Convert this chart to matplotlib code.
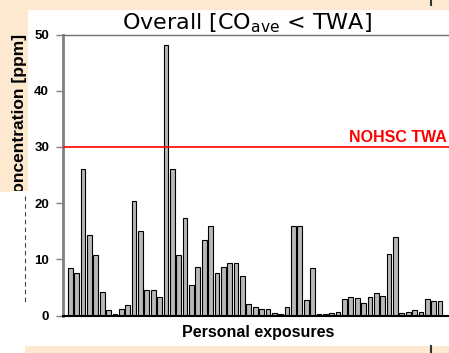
import matplotlib
matplotlib.use("Agg")
import matplotlib.pyplot as plt
from matplotlib.patches import Rectangle
from matplotlib.lines import Line2D

# ---- data ----
exposure_values = [8.4, 7.5, 26.1, 14.4, 10.7, 4.1, 0.9, 0.3, 1.2, 1.9,
                   20.3, 15.0, 4.5, 4.6, 3.3, 48.1, 26.1, 10.7, 17.3, 5.4,
                   8.7, 13.4, 16.0, 7.5, 8.7, 9.3, 9.4, 7.0, 2.0, 1.6,
                   1.2, 1.2, 0.4, 0.3, 1.5, 16.0, 15.9, 2.7, 8.45, 0.3,
                   0.3, 0.4, 0.7, 3.0, 3.3, 3.1, 2.2, 3.3, 3.95, 3.5,
                   10.9, 14.0, 0.4, 0.7, 0.9, 0.7, 2.9, 2.5, 2.5]
y_ticks = [0, 10, 20, 30, 40, 50]
twa_level = 30
twa_label = "NOHSC TWA"
title_text = r"Overall [CO$_{\mathrm{ave}}$ < TWA]"
x_label = "Personal exposures"
y_label = "Average concentration [ppm]"

W, H = 449, 353
plt.rcParams['mathtext.fontset'] = 'dejavusans'
fig = plt.figure(figsize=(W / 100, H / 100), dpi=100)
fig.patch.set_facecolor('white')

def fx(x):
    return x / W

def fy(y):
    return 1 - y / H

beige = '#fce9cf'
# background decoration (slide)
fig.patches.append(Rectangle((0, fy(10)), 1, fy(0) - fy(10), transform=fig.transFigure,
                             facecolor=beige, edgecolor='none', zorder=-2))
fig.patches.append(Rectangle((0, fy(192)), fx(28), fy(0) - fy(192), transform=fig.transFigure,
                             facecolor=beige, edgecolor='none', zorder=-2))
fig.patches.append(Rectangle((fx(25), 0), 1, fy(346), transform=fig.transFigure,
                             facecolor=beige, edgecolor='none', zorder=-2))
for (y0, y1) in [(0, 5), (346, 353)]:
    fig.lines.append(Line2D([fx(431), fx(431)], [fy(y0), fy(y1)], transform=fig.transFigure,
                            color='#333333', lw=1.5, zorder=-1))

# axes
left_px, top_px, bottom_px = 63, 34.5, 315.5
xmin, xmax = -1.15, 60
pitch = 6.375
width_px = (xmax - xmin) * pitch
ax = fig.add_axes([fx(left_px), fy(bottom_px), width_px / W, (bottom_px - top_px) / H])
ax.patch.set_facecolor('none')

x = list(range(len(exposure_values)))
ax.bar(x, exposure_values, width=0.74, color='#b8b8b8', edgecolor='black', linewidth=0.8,
       zorder=2)
ax.axhline(twa_level, color='#ff0000', lw=1.2, zorder=3)
ax.set_xlim(xmin, xmax)
ax.set_ylim(0, 50)
ax.set_yticks(y_ticks)
ax.set_xticks([])
for lab in ax.get_yticklabels():
    lab.set_fontfamily('Liberation Sans')
    lab.set_fontweight('bold')
    lab.set_fontsize(9.5)
ax.tick_params(axis='y', direction='out', length=5, width=1, color='#808080', pad=5)
ax.spines['right'].set_visible(False)
ax.spines['left'].set_color('#808080')
ax.spines['left'].set_linewidth(2)
ax.spines['top'].set_color('#707070')
ax.spines['top'].set_linewidth(1)
ax.spines['bottom'].set_color('black')
ax.spines['bottom'].set_linewidth(1.5)

# texts
fig.text(fx(247), fy(29), title_text, ha='center', va='baseline', fontsize=16,
         family='DejaVu Sans')
fig.text(fx(258), fy(332), x_label, ha='center', va='center', fontsize=11.5,
         family='Liberation Sans', fontweight='bold')
fig.text(fx(447), fy(142), twa_label, ha='right', va='baseline', fontsize=11.5,
         family='Liberation Sans', fontweight='bold', color='#ff0000')
fig.text(fx(20), fy(34), y_label, ha='center', va='top', rotation=90, fontsize=12.5,
         family='Liberation Sans', fontweight='bold', zorder=3)
# white box covering lower part of the y label
fig.patches.append(Rectangle((fx(10), fy(345)), fx(20), fy(191) - fy(345), transform=fig.transFigure,
                             facecolor='white', edgecolor='none', zorder=5))
fig.lines.append(Line2D([fx(25), fx(25)], [fy(196), fy(302)], transform=fig.transFigure,
                        color='#444444', lw=0.8, ls=(0, (4, 3)), zorder=6))

fig.savefig('out.png', dpi=100)
